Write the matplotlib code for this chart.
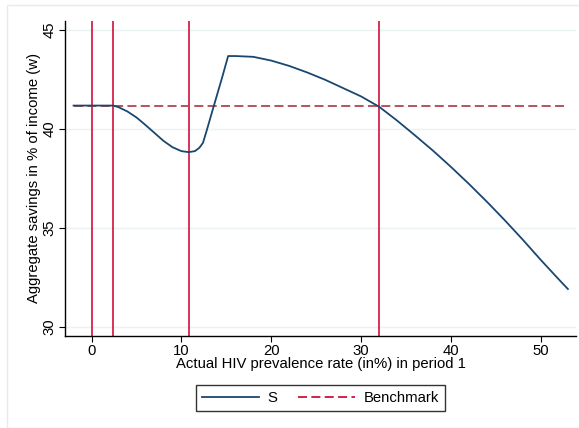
#!/usr/bin/env python3
"""Aggregate savings vs. HIV prevalence rate."""
import matplotlib.pyplot as plt
from matplotlib.patches import Rectangle
import numpy as np

plt.rcParams['font.family'] = ['Liberation Sans', 'DejaVu Sans']

# HIV prevalence (%) and aggregate savings S (% of income)
prevalence = [-2, 0, 2.4, 3, 4, 5, 6, 7, 8, 9, 10, 10.8, 11.5, 12, 12.4, 12.8,
              13.5, 14.5, 15.2, 16, 18, 20, 22, 24, 26, 28, 30, 32, 34, 36,
              38, 40, 42, 44, 46, 48, 50, 52, 53]
savings = [41.18, 41.18, 41.18, 41.1, 40.88, 40.58, 40.2, 39.8, 39.4, 39.08,
           38.88, 38.83, 38.88, 39.05, 39.3, 39.9, 41.0, 42.55, 43.68, 43.68,
           43.64, 43.45, 43.18, 42.85, 42.48, 42.06, 41.64, 41.12, 40.42,
           39.67, 38.90, 38.08, 37.22, 36.32, 35.38, 34.40, 33.38, 32.40, 31.92]
benchmark = 41.18
thresholds = [0, 2.4, 10.8, 32]

navy = '#1a476f'
crimson = '#d0103c'
bench_color = '#b0464f'
fs = 10.7

fig = plt.figure(figsize=(5.79, 4.28), dpi=100)
fig.patches.append(Rectangle((0.012, 0.0), 0.99, 0.988, transform=fig.transFigure,
                             facecolor='white', edgecolor='#e4ecee', lw=1.0, zorder=-1))
ax = fig.add_axes([0.1123, 0.215, 0.8825, 0.736])

for x in thresholds:
    ax.axvline(x, color=crimson, lw=1.2, zorder=2)
ax.plot([prevalence[0], prevalence[-1]], [benchmark, benchmark], color=bench_color,
        lw=1.3, ls=(0, (5, 2.4)), zorder=3, label='Benchmark')
ax.plot(prevalence, savings, color=navy, lw=1.3, zorder=4, label='S')

ax.set_xlim(-2.95, 53.9)
ax.set_ylim(29.55, 45.45)
ax.set_xticks([0, 10, 20, 30, 40, 50])
ax.set_yticks([30, 35, 40, 45])
ax.yaxis.grid(True, color='#eaf2f3', lw=1.0)
ax.set_axisbelow(True)
for s in ['top', 'right']:
    ax.spines[s].set_visible(False)
for s in ['left', 'bottom']:
    ax.spines[s].set_linewidth(1.0)
ax.tick_params(direction='out', length=4, labelsize=fs, width=0.8, pad=2)
plt.setp(ax.get_yticklabels(), rotation=90, va='center')
ax.set_xlabel('Actual HIV prevalence rate (in%) in period 1', fontsize=fs, labelpad=-1)
ax.set_ylabel('Aggregate savings in % of income (w)', fontsize=fs, labelpad=1)

h, l = ax.get_legend_handles_labels()
leg = fig.legend(h[::-1], l[::-1], loc='center', bbox_to_anchor=(0.5535, 0.07), ncol=2,
                 fontsize=fs, frameon=True, fancybox=False, edgecolor='black',
                 handlelength=3.8, handletextpad=0.6, columnspacing=1.4, borderpad=0.4)
leg.get_frame().set_linewidth(1.0)
leg.get_lines()[1].set_color(crimson)

fig.savefig('out.png', dpi=100)
